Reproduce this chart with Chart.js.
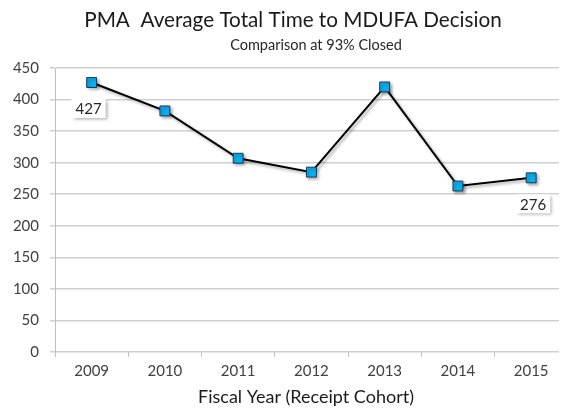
<!DOCTYPE html>
<html>
<head>
<meta charset="utf-8">
<script src="https://cdn.jsdelivr.net/npm/chart.js@4"></script>
<style>
    html, body { margin: 0; padding: 0; background: #fff; overflow: hidden; }
    #wrap { width: 567px; height: 408px; }
</style>
</head>
<body>
<div id="wrap"><canvas id="chart" width="567" height="408"></canvas></div>
<script>
const years = ['2009', '2010', '2011', '2012', '2013', '2014', '2015'];
const avgDays = [427, 382, 307, 285, 420, 263, 276];
const labelledPoints = [0, 6];
const yTicks = [0, 50, 100, 150, 200, 250, 300, 350, 400, 450];

const FONT = 'Lato, "Open Sans", sans-serif';

// the original plot area runs a little past the right edge of the picture,
// so the last year slot is cut: x runs from -0.5 to a bit under 6.5
const X_MIN = -0.5;
const X_MAX = 6.38;

const shadowPlugin = {
    id: 'shadow',
    beforeDatasetsDraw(chart) {
        const ctx = chart.ctx;
        ctx.save();
        ctx.shadowColor = 'rgba(0,0,0,0.35)';
        ctx.shadowOffsetX = 2;
        ctx.shadowOffsetY = 2;
        ctx.shadowBlur = 3;
    },
    afterDatasetsDraw(chart) {
        chart.ctx.restore();
    },
};

// small nudges so the boxes sit like the original ones
const labelShift = { 0: -3, 6: 2 };

const valueLabels = {
    id: 'valueLabels',
    afterDatasetsDraw(chart) {
        const ctx = chart.ctx;
        const meta = chart.getDatasetMeta(0);
        ctx.save();
        ctx.font = '15px ' + FONT;
        ctx.textAlign = 'center';
        ctx.textBaseline = 'middle';
        labelledPoints.forEach((i) => {
            const pt = meta.data[i];
            const text = String(avgDays[i]);
            const w = ctx.measureText(text).width + 8;
            const h = 19;
            const cx = pt.x + (labelShift[i] || 0);
            const cy = pt.y + 26;
            ctx.save();
            ctx.shadowColor = 'rgba(0,0,0,0.3)';
            ctx.shadowOffsetX = 2;
            ctx.shadowOffsetY = 2;
            ctx.shadowBlur = 3;
            ctx.fillStyle = '#fff';
            ctx.fillRect(cx - w / 2, cy - h / 2, w, h);
            ctx.restore();
            ctx.fillStyle = '#262626';
            ctx.fillText(text, cx, cy + 1);
        });
        ctx.restore();
    },
};

const titles = {
    id: 'titles',
    afterDraw(chart) {
        const ctx = chart.ctx;
        ctx.save();
        ctx.textAlign = 'center';
        ctx.textBaseline = 'middle';
        ctx.fillStyle = '#1a1a1a';
        ctx.font = '20.7px ' + FONT;
        ctx.fillText('PMA  Average Total Time to MDUFA Decision', 293, 20);
        ctx.fillStyle = '#262626';
        ctx.font = '14.5px ' + FONT;
        ctx.fillText('Comparison at 93% Closed', 316, 45);
        ctx.fillStyle = '#1a1a1a';
        ctx.font = '18px ' + FONT;
        ctx.fillText('Fiscal Year (Receipt Cohort)', 306, 397);
        ctx.restore();
    },
};

new Chart(document.getElementById('chart').getContext('2d'), {
    type: 'line',
    data: {
        datasets: [
            {
                data: avgDays.map((v, i) => ({ x: i, y: v })),
                borderColor: '#000',
                borderWidth: 2,
                tension: 0,
                pointStyle: 'rect',
                pointRadius: 7,
                pointBackgroundColor: '#0cb0ee',
                pointBorderColor: '#17375e',
                pointBorderWidth: 1,
            },
        ],
    },
    options: {
        responsive: false,
        devicePixelRatio: 1,
        animation: false,
        layout: {
            padding: { top: 68, left: 0, right: 0, bottom: 0 },
        },
        plugins: {
            legend: { display: false },
            tooltip: { enabled: false },
        },
        scales: {
            x: {
                type: 'linear',
                min: X_MIN,
                max: X_MAX,
                afterBuildTicks(scale) {
                    const ticks = [];
                    years.forEach((y, i) => {
                        ticks.push({ value: i - 0.5 });
                        ticks.push({ value: i });
                    });
                    scale.ticks = ticks;
                },
                grid: {
                    drawOnChartArea: false,
                    drawTicks: true,
                    tickLength: 5,
                    color: (c) => (c.tick && Number.isInteger(c.tick.value) ? 'rgba(0,0,0,0)' : '#bfbfbf'),
                },
                border: { display: false },
                ticks: {
                    autoSkip: false,
                    maxRotation: 0,
                    color: '#404040',
                    font: { family: FONT, size: 15 },
                    padding: 5,
                    callback: (v) => (Number.isInteger(v) ? years[v] : ''),
                },
                afterFit(scale) {
                    scale.height = 56;
                },
            },
            y: {
                min: 0,
                max: 450,
                afterBuildTicks(scale) {
                    scale.ticks = yTicks.map((v) => ({ value: v }));
                },
                grid: {
                    color: '#cfcfcf',
                    lineWidth: 1.5,
                    tickLength: 5,
                },
                border: { display: true, color: '#bfbfbf', width: 1 },
                ticks: {
                    color: '#404040',
                    font: { family: FONT, size: 15 },
                    padding: 11,
                },
                afterFit(scale) {
                    scale.width = 55;
                },
            },
        },
    },
    plugins: [shadowPlugin, valueLabels, titles],
});
</script>
</body>
</html>
